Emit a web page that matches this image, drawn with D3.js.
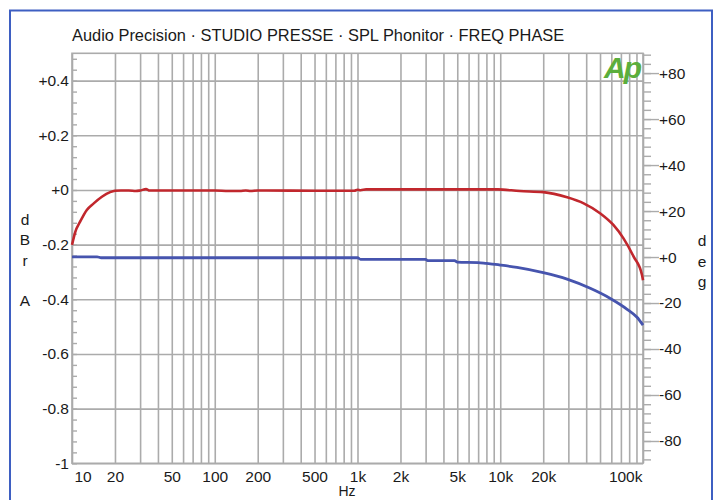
<!DOCTYPE html>
<html><head><meta charset="utf-8">
<script src="https://cdn.jsdelivr.net/npm/d3@7"></script>
<style>
body{margin:0;background:#fff}
svg{display:block}
text{font-family:"Liberation Sans",Arial,sans-serif;fill:#1a1a1a}
</style>
</head><body>
<svg id="c" width="719" height="500"></svg>
<script>
// ---- data ----
const titleText = "Audio Precision · STUDIO PRESSE · SPL Phonitor · FREQ PHASE";
const freqTicks = [10,20,50,100,200,500,1000,2000,5000,10000,20000,100000];
const freqTickLabels = ["10","20","50","100","200","500","1k","2k","5k","10k","20k","100k"];
const dbTicks = [0.4,0.2,0,-0.2,-0.4,-0.6,-0.8,-1];
const dbTickLabels = ["+0.4","+0.2","+0","-0.2","-0.4","-0.6","-0.8","-1"];
const degTicks = [80,60,40,20,0,-20,-40,-60,-80];
const degTickLabels = ["+80","+60","+40","+20","+0","-20","-40","-60","-80"];

// level (red, dBr A, left axis)
const levelFreq = [10,10.55,11.4,12.7,14.2,16.2,18.5,20,22,25,28,30,33,35,50,80,100,125,150,165,178,200,230,500,950,1000,1050,1150,2000,5000,8000,9600,13700,20000,29400,38400,50000,62000,73000,86000,98400,100000];
const levelDb   = [-0.201,-0.153,-0.116,-0.073,-0.049,-0.025,-0.008,-0.003,-0.002,-0.002,-0.004,-0.002,0.003,-0.002,-0.002,-0.002,-0.002,-0.004,-0.004,-0.002,-0.004,-0.002,-0.002,-0.003,-0.003,0.001,-0.001,0.002,0.002,0.002,0.002,0.002,-0.004,-0.008,-0.027,-0.049,-0.085,-0.128,-0.177,-0.244,-0.311,-0.330];

// phase (blue, deg, right axis)
const phaseFreq = [10,15,16,100,500,1000,1050,3000,3100,4800,5000,7000,8000,10000,13100,20000,29400,42700,59000,77000,90800,100000];
const phaseDeg  = [0.1,0.1,-0.3,-0.3,-0.3,-0.3,-1.0,-1.0,-1.6,-1.6,-2.2,-2.4,-2.8,-3.5,-4.5,-6.8,-9.6,-13.6,-18.0,-22.6,-26.2,-29.6];

// ---- layout ----
const L = 72, R = 643, T = 53.3, B = 463.3;
const svg = d3.select("#c");

svg.append("rect").attr("x",10).attr("y",10.5).attr("width",702).attr("height",530)
  .attr("fill","none").attr("stroke","#3e5fc2").attr("stroke-width",2);

const x = d3.scaleLog().domain([10,100000]).range([L,R]);
const y = d3.scaleLinear().domain([-1,0.5]).range([B,T]);
const yr = d3.scaleLinear().domain([-89.7,88.6]).range([B,T]);

const gridCol = "#ababab";
const fontFam = "Liberation Sans, Arial, sans-serif";

// vertical grid
svg.append("g").attr("transform",`translate(0,${B})`)
  .call(d3.axisBottom(x).tickValues(x.ticks()).tickSize(-(B-T)).tickFormat(""))
  .call(g=>g.select(".domain").remove())
  .call(g=>g.selectAll("line").attr("stroke",gridCol).attr("stroke-width",1.6));

// horizontal grid
svg.append("g").attr("transform",`translate(${L},0)`)
  .call(d3.axisLeft(y).tickValues(dbTicks).tickSize(-(R-L)).tickFormat(""))
  .call(g=>g.select(".domain").remove())
  .call(g=>g.selectAll("line").attr("stroke",gridCol).attr("stroke-width",1.6));

// plot frame
svg.append("rect").attr("x",L).attr("y",T).attr("width",R-L).attr("height",B-T)
  .attr("fill","none").attr("stroke",gridCol).attr("stroke-width",1.6);

// left minor ticks (inside)
const minorDb = d3.range(0,38).map(i=>-1+i*0.04);
svg.append("g").attr("transform",`translate(${L},0)`)
  .call(d3.axisRight(y).tickValues(minorDb).tickSize(5).tickFormat(""))
  .call(g=>g.select(".domain").remove())
  .call(g=>g.selectAll("line").attr("stroke",gridCol).attr("stroke-width",1.4));

// left labels
svg.append("g").attr("transform",`translate(${L},0)`)
  .call(d3.axisLeft(y).tickValues(dbTicks).tickSize(0).tickPadding(3).tickFormat((d,i)=>dbTickLabels[i]))
  .call(g=>g.select(".domain").remove())
  .call(g=>g.selectAll("text").attr("font-size",15.5).attr("font-family",fontFam).attr("fill","#1a1a1a"));

// right minor ticks (outside)
const minorDeg = d3.range(0,45).map(i=>-88+i*4);
svg.append("g").attr("transform",`translate(${R},0)`)
  .call(d3.axisRight(yr).tickValues(minorDeg).tickSize(8).tickFormat(""))
  .call(g=>g.select(".domain").remove())
  .call(g=>g.selectAll("line").attr("stroke",gridCol).attr("stroke-width",1.4));

// right major ticks + labels
svg.append("g").attr("transform",`translate(${R},0)`)
  .call(d3.axisRight(yr).tickValues(degTicks).tickSize(16).tickPadding(0).tickFormat((d,i)=>degTickLabels[i]))
  .call(g=>g.select(".domain").remove())
  .call(g=>g.selectAll("line").attr("stroke",gridCol).attr("stroke-width",1.4))
  .call(g=>g.selectAll("text").attr("font-size",15.5).attr("font-family",fontFam).attr("fill","#1a1a1a"));

// bottom labels
svg.append("g").attr("transform",`translate(0,${B})`)
  .call(d3.axisBottom(x).tickValues(freqTicks).tickSize(0).tickPadding(8).tickFormat((d,i)=>freqTickLabels[i]))
  .call(g=>g.select(".domain").remove())
  .call(g=>g.selectAll("text").attr("font-size",15.5).attr("font-family",fontFam).attr("fill","#1a1a1a"))
  .call(g=>g.selectAll("text").filter((d,i)=>i===0).attr("text-anchor","start").attr("dx",2))
  .call(g=>g.selectAll("text").filter((d,i)=>i===freqTicks.length-1).attr("text-anchor","end").attr("dx",-1));

svg.append("text").attr("x",347).attr("y",496).attr("text-anchor","middle")
  .attr("font-size",14).text("Hz");

// title
svg.append("text").attr("x",72).attr("y",41).attr("font-size",16.4).text(titleText);

// axis titles (stacked letters)
const leftLetters = ["d","B","r","","A"];
leftLetters.forEach((c,i)=>{
  svg.append("text").attr("x",25).attr("y",225+i*20.3).attr("text-anchor","middle")
    .attr("font-size",15.5).text(c);
});
const rightLetters = ["d","e","g"];
rightLetters.forEach((c,i)=>{
  svg.append("text").attr("x",702).attr("y",246+i*20.5).attr("text-anchor","middle")
    .attr("font-size",15.5).text(c);
});

// Ap logo
svg.append("text").attr("x",604).attr("y",78).attr("font-size",30).attr("font-weight","bold")
  .attr("font-style","italic").attr("letter-spacing",-2).style("fill","#5bae3c").text("Ap");

// curves
const levelData = levelFreq.map((f,i)=>[f,levelDb[i]]);
const phaseData = phaseFreq.map((f,i)=>[f,phaseDeg[i]]);

svg.append("path").datum(phaseData)
  .attr("fill","none").attr("stroke","#4654ae").attr("stroke-width",2.8)
  .attr("d",d3.line().x(d=>x(d[0])).y(d=>yr(d[1])).curve(d3.curveMonotoneX));

svg.append("path").datum(levelData)
  .attr("fill","none").attr("stroke","#c1272d").attr("stroke-width",2.6)
  .attr("d",d3.line().x(d=>x(d[0])).y(d=>y(d[1])).curve(d3.curveMonotoneX));
</script>
</body></html>
